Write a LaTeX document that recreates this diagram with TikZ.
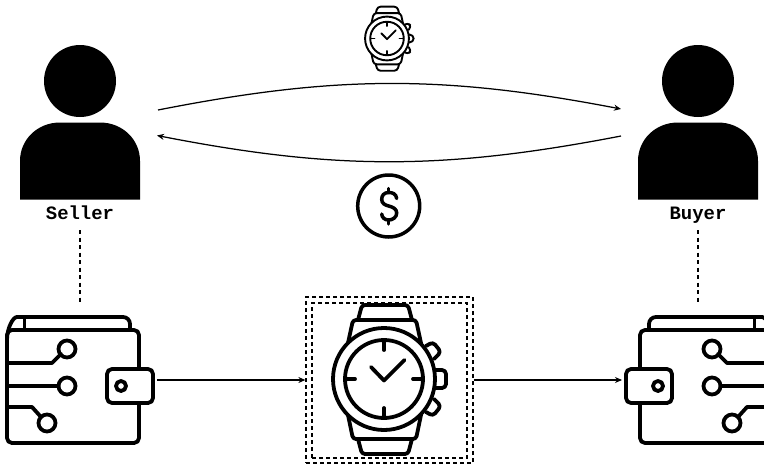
\documentclass[tikz,border=0pt]{standalone}
\usepackage{fontspec}
\setmonofont{Liberation Mono}
\usetikzlibrary{arrows.meta,positioning}
\tikzset{
 walleticon/.pic={
  \draw[rounded corners=5pt] (7,-30) -- (7,83) -- (139,83) -- (139,-30) -- cycle;
  \draw[rounded corners=7pt] (7,-20) .. controls (7,-32) and (13,-43) .. (24,-43) -- (130,-43) -- (130,-30);
  \draw (24.5,-43) -- (24.5,-30);
  \filldraw[fill=white,rounded corners=5pt] (107,9) rectangle (153,43);
  \draw (121,26) circle (5);
  \draw (67,-11) circle (8.5);
  \draw (67,26) circle (8.5);
  \draw (47,63) circle (8.5);
  \draw (7,3) -- (52,3) -- (61,-6);
  \draw (7,26) -- (58.5,26);
  \draw (7,47) -- (32,47) -- (41,57);
 },
 watchicon/.pic={
  \draw (0,0) circle (51);
  \draw (0,0) circle (39);
  \foreach \r in {0,90,180,270} \draw[rotate=\r] (0,-38) -- (0,-29);
  \draw (-13,-12) -- (0,1.5) -- (20.5,-19);
  \draw[rounded corners=3pt] (-36,-36) -- (-31,-59) -- (32,-59) -- (37,-36);
  \draw[rounded corners=3pt] (-26,-59) -- (-22,-74) -- (24,-74) -- (28,-59);
  \draw[rounded corners=3pt] (-36,36) -- (-31,60) -- (32,60) -- (37,36);
  \draw[rounded corners=3pt] (-26,60) -- (-22,75) -- (24,75) -- (28,60);
  \draw[rounded corners=4pt] (51,-9) -- (62,-9) -- (62,9) -- (51,9);
  \draw[rounded corners=3.5pt] (42,-33) -- (49,-37) -- (57,-27) -- (50,-20);
  \draw[rounded corners=3.5pt] (42,33) -- (49,37) -- (57,27) -- (50,20);
 },
 personicon/.pic={
  \fill (-60,38.5) -- (-60,0) .. controls (-60,-22) and (-42,-38.5) .. (-20,-38.5) -- (20,-38.5)
   .. controls (42,-38.5) and (60,-22) .. (60,0) -- (60,38.5) -- cycle;
 }
}
\begin{document}
\begin{tikzpicture}[x=1pt,y=-1pt,>={Stealth[length=7pt,width=6pt]},line width=1.25pt,
 iconline/.style={line width=3.8pt,line cap=round,line join=round},
 iconbox/.style={minimum width=146pt,minimum height=126pt,inner sep=0pt,outer sep=4pt},
 frame/.style={draw,dash pattern=on 4pt off 3pt,line width=1.25pt,inner sep=0pt},
 headdot/.style={circle,fill=black,minimum size=72pt,inner sep=0pt},
 role/.style={font=\ttfamily\bfseries\fontsize{18.9}{20}\selectfont,inner sep=0pt,anchor=base}]
\useasboundingbox (0,0) rectangle (764,466);
\clip (0,0) rectangle (764,466);
% people
\node[headdot] (sellerhead) at (80,81) {};
\node[headdot] (buyerhead) at (698,81) {};
\pic at (80,161) {personicon};
\pic at (698,161) {personicon};
\node[role] (sellerlabel) at (80,219) {Seller};
\node[role] (buyerlabel) at (698,219) {Buyer};
% wallets and watch
\node[iconbox] (sellerwallet) at (80,380) {};
\node[iconbox] (buyerwallet) at (699,380) {};
\pic[iconline] at (0,360) {walleticon};
\pic[iconline,xscale=-1] at (779,360) {walleticon};
\node[frame,minimum width=167pt,minimum height=166pt] (outerframe) at (389.5,380) {};
\node[frame,minimum width=155pt,minimum height=155pt] (innerframe) at (389.5,380.5) {};
\pic[iconline] at (384,379) {watchicon};
% goods
\pic[line width=1.9pt,line cap=round,line join=round,scale=0.43] at (387,38.5) {watchicon};
\node[circle,draw,line width=3.5pt,minimum size=62pt,inner sep=0pt] (dollar) at (388.7,206) {};
\draw[line width=3.5pt,line cap=round] (396.7,198.5) .. controls (396,194) and (393,192.5) .. (388.7,192.5)
 .. controls (384,192.5) and (381.7,195.5) .. (381.7,199.3) .. controls (381.7,203.5) and (385,205) .. (388.7,206)
 .. controls (393,207) and (396.7,209) .. (396.7,213) .. controls (396.7,217) and (393,220) .. (388.7,220)
 .. controls (384.5,220) and (382,217.5) .. (381.7,214);
\draw[line width=3.5pt,line cap=round] (388.7,188.5) -- (388.7,192.5);
\draw[line width=3.5pt,line cap=round] (388.7,220) -- (388.7,224);
% exchange
\coordinate (sellerout) at (158,110);
\coordinate (buyerin) at (621,109);
\coordinate (buyerout) at (621,136);
\coordinate (sellerin) at (157,135.5);
\draw[->] (sellerout) to[bend left=11] (buyerin);
\draw[->] (buyerout) to[bend left=11] (sellerin);
\coordinate (sellerdrop) at (80,230);
\coordinate (buyerdrop) at (698,230);
\coordinate (sellertop) at (80,303);
\coordinate (buyertop) at (698,303);
\draw[dash pattern=on 4pt off 3.5pt] (sellerdrop) -- (sellertop);
\draw[dash pattern=on 4pt off 3.5pt] (buyerdrop) -- (buyertop);
\draw[->] (sellerwallet.east) -- (outerframe.west);
\draw[->] (outerframe.east) -- (buyerwallet.west);
\end{tikzpicture}
\end{document}
